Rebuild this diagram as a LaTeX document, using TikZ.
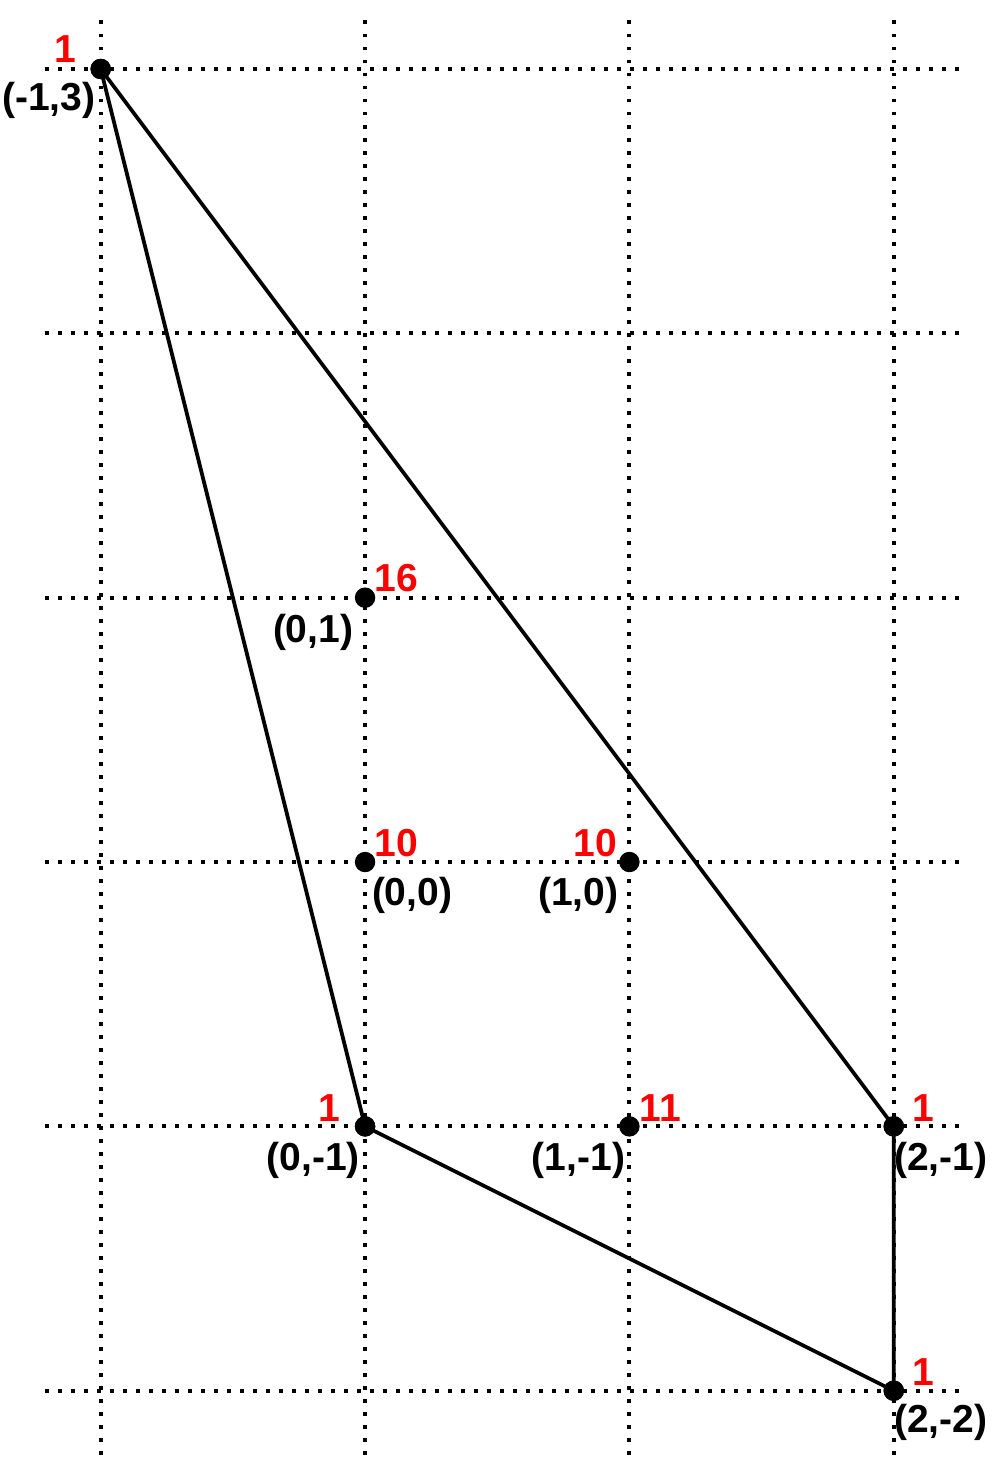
\documentclass[tikz,border=0pt]{standalone}
\usepackage{fontspec}
\setmainfont{Liberation Sans}
\begin{document}
\begin{tikzpicture}[x=2cm,y=2cm,
  gridline/.style={line width=0.85pt,dash pattern=on 0.85pt off 1.95pt},
  edge/.style={line width=0.8pt},
  pt/.style={circle,fill=black,inner sep=0pt,minimum size=4.4pt},
  num/.style={text=red,font=\fontsize{8.4}{10}\selectfont\bfseries,inner sep=0pt},
  crd/.style={text=black,font=\fontsize{8.4}{10}\selectfont\bfseries,inner sep=0pt}]
\useasboundingbox (-1.381,-2.281) rectangle (2.387,3.261);
% grid
\foreach \x in {-1,0,1,2} \draw[gridline] (\x,-2.244) -- (\x,3.216);
\foreach \y in {-2,-1,0,1,2,3} \draw[gridline] (-1.211,\y) -- (2.251,\y);
% points
\node[pt] (a) at (-1,3) {};
\node[pt] (b) at (0,1) {};
\node[pt] (c) at (0,0) {};
\node[pt] (d) at (1,0) {};
\node[pt] (e) at (0,-1) {};
\node[pt] (f) at (1,-1) {};
\node[pt] (g) at (2,-1) {};
\node[pt] (h) at (2,-2) {};
% polygon
\draw[edge] (a.center) -- (e.center) -- (h.center) -- (g.center) -- (a.center);
\foreach \n in {a,e,g,h} \fill (\n) circle (2.2pt);
% labels
\node[num] (na) at ([shift={(-0.265cm,0.15cm)}]a.center) {1};
\node[crd] (ca) at ([shift={(-0.393cm,-0.24cm)}]a.center) {(-1,3)};
\node[num] (nb) at ([shift={(0.235cm,0.15cm)}]b.center) {16};
\node[crd] (cb) at ([shift={(-0.393cm,-0.26cm)}]b.center) {(0,1)};
\node[num] (nc) at ([shift={(0.235cm,0.14cm)}]c.center) {10};
\node[crd] (cc) at ([shift={(0.356cm,-0.25cm)}]c.center) {(0,0)};
\node[num] (nd) at ([shift={(-0.258cm,0.14cm)}]d.center) {10};
\node[crd] (cd) at ([shift={(-0.386cm,-0.25cm)}]d.center) {(1,0)};
\node[num] (ne) at ([shift={(-0.272cm,0.14cm)}]e.center) {1};
\node[crd] (ce) at ([shift={(-0.393cm,-0.26cm)}]e.center) {(0,-1)};
\node[num] (nf) at ([shift={(0.235cm,0.14cm)}]f.center) {11};
\node[crd] (cf) at ([shift={(-0.386cm,-0.26cm)}]f.center) {(1,-1)};
\node[num] (ng) at ([shift={(0.227cm,0.14cm)}]g.center) {1};
\node[crd] (cg) at ([shift={(0.356cm,-0.26cm)}]g.center) {(2,-1)};
\node[num] (nh) at ([shift={(0.227cm,0.14cm)}]h.center) {1};
\node[crd] (ch) at ([shift={(0.356cm,-0.24cm)}]h.center) {(2,-2)};
\end{tikzpicture}
\end{document}
